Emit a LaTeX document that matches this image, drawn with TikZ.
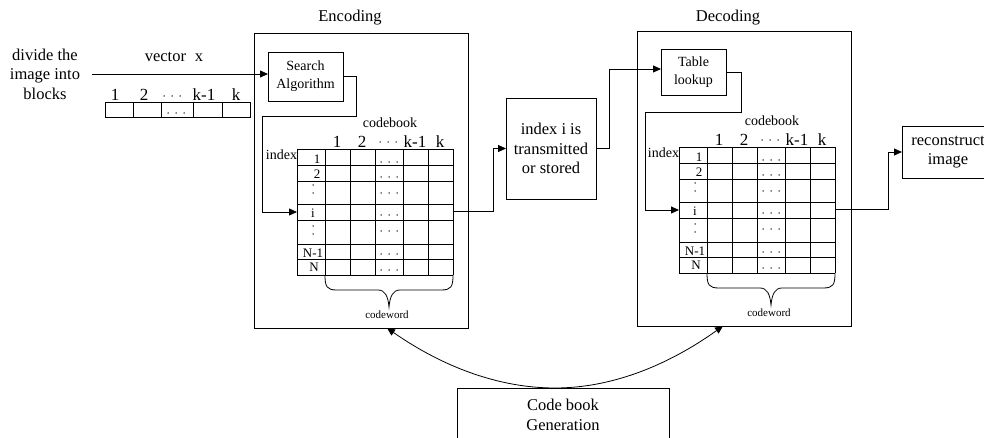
\documentclass[tikz,border=0pt]{standalone}
\usepackage{fontspec}
\setmainfont{Liberation Serif}
\usetikzlibrary{arrows.meta,calc}

\tikzset{
  txt/.style={font=\fontsize{16.5}{19.5}\selectfont, align=center},
  mid/.style={font=\fontsize{14}{18}\selectfont, align=center},
  hdr/.style={font=\fontsize{17}{18}\selectfont},
  rowlbl/.style={font=\fontsize{13}{15}\selectfont},
  tinytxt/.style={font=\fontsize{11}{13}\selectfont},
  frame/.style={draw, line width=1pt, rectangle},
  box/.style={draw, line width=0.9pt, rectangle, align=center},
  grid/.style={line width=0.9pt},
  link/.style={line width=0.8pt},
  arr/.style={link, -{Triangle[length=8pt,width=7pt]}},
  hdots/.pic={\fill (-8,0) circle[radius=0.75pt] (0,0) circle[radius=0.75pt] (8,0) circle[radius=0.75pt];},
  vdots/.pic={\fill (0,-4) circle[radius=0.75pt] (0,4) circle[radius=0.75pt];},
  % codebook table: N rows (index) by k columns (codeword)
  cbtable/.pic={
    \foreach \r in {0,16,32,55,71,95,110,126} \draw[grid] (0,\r) -- (156,\r);
    \foreach \c in {0,28,53,78,106,131,156} \draw[grid] (\c,0) -- (\c,126);
    \node[hdr] at (40,-7) {1};
    \node[hdr] at (65,-7) {2};
    \pic at (91,-7) {hdots};
    \node[hdr] at (118,-7) {k-1};
    \node[hdr] at (143,-7) {k};
    \node[mid] at (93,-26) {codebook};
    \node[mid, anchor=east] at (0,6) {index};
    \node[rowlbl] at (20,10) {1};
    \node[rowlbl] at (20,25) {2};
    \pic at (16,40) {vdots};
    \node[rowlbl] at (16,64) {i};
    \pic at (16,81) {vdots};
    \node[rowlbl] at (16,104) {N-1};
    \node[rowlbl] at (17,118) {N};
    \foreach \r in {13,28,44,66,82,105,121} \pic at (92,\r) {hdots};
    \draw[link] (28,126) .. controls (28,138) and (30,141) .. (40,141)
      -- (81,141) .. controls (88,141) and (91,147) .. (92,158)
      .. controls (93,147) and (96,141) .. (103,141)
      -- (144,141) .. controls (154,141) and (156,138) .. (156,126);
    \node[tinytxt] at (90,166) {codeword};
    \coordinate (-rowi) at (0,63);
    \coordinate (-out) at (156,62);
  }
}

\begin{document}
\begin{tikzpicture}[x=1pt,y=-1pt, every node/.style={inner sep=0pt, outer sep=0pt}]
\clip (0,0) rectangle (984,438);
\fill[white] (0,0) rectangle (984,438);

% input side
\node[txt] (blk) at (45,74) {divide the\\image into\\blocks};
\node[txt] at (174,57) {vector\hspace{9pt}x};
\coordinate (in) at (92,74);

% the input vector of k components
\draw[grid] (105,102) rectangle (250,117);
\foreach \c in {133,161,193,222} \draw[grid] (\c,102) -- (\c,117);
\node[hdr] at (115,95) {1};
\node[hdr] at (144,95) {2};
\pic at (172,96) {hdots};
\node[hdr] at (204,95) {k-1};
\node[hdr] at (236,95) {k};
\pic at (176,113) {hdots};

% encoder
\node[frame, minimum width=214, minimum height=294, anchor=north west] (enc) at (254,34) {};
\node[txt] at (350,18) {Encoding};
\node[box, mid, minimum width=75, minimum height=49] (sa) at (305.5,76.5) {Search\\Algorithm};
\pic (et) at (297,149) {cbtable};

% channel
\node[box, txt, minimum width=90, minimum height=101] (ix) at (551,148.5) {index i is\\transmitted\\or stored};

% decoder
\node[frame, minimum width=214, minimum height=294, anchor=north west] (dec) at (637,32) {};
\node[txt] at (728,18) {Decoding};
\node[box, mid, minimum width=65, minimum height=46] (tl) at (693.5,72) {Table\\lookup};
\pic (dt) at (679,147) {cbtable};

% output
\node[box, txt, minimum width=92, minimum height=52, anchor=west] (rc) at (902,152) {reconstruct\\image};

% codebook generation
\node[box, txt, minimum width=212, minimum height=54, anchor=north] (cb) at (563,388) {Code book\\Generation};
\coordinate (cbm) at ([xshift=-8pt]cb.north);

% connectors
\draw[arr] (in) -- (in -| sa.west);
\draw[arr] (sa.east) -- ++(13,0) -- ++(0,40) -| ([xshift=-35pt]et-rowi) -- (et-rowi);
\draw[arr] (et-out) -- ++(40,0) |- (ix.west);
\draw[arr] (ix.east) -- ++(13,0) |- ([yshift=3pt]tl.west);
\draw[arr] (tl.east) -- ++(15,0) -- ++(0,40) -| ([xshift=-34pt]dt-rowi) -- (dt-rowi);
\draw[arr] (dt-out) -- ++(53,0) |- (rc.west);
\draw[arr] (cbm) .. controls +(-56,0) and +(56,39) .. ([xshift=26pt]enc.south);
\draw[arr] (cbm) .. controls +(56,0) and +(-56,40) .. ([xshift=-21pt]dec.south);
\end{tikzpicture}
\end{document}
